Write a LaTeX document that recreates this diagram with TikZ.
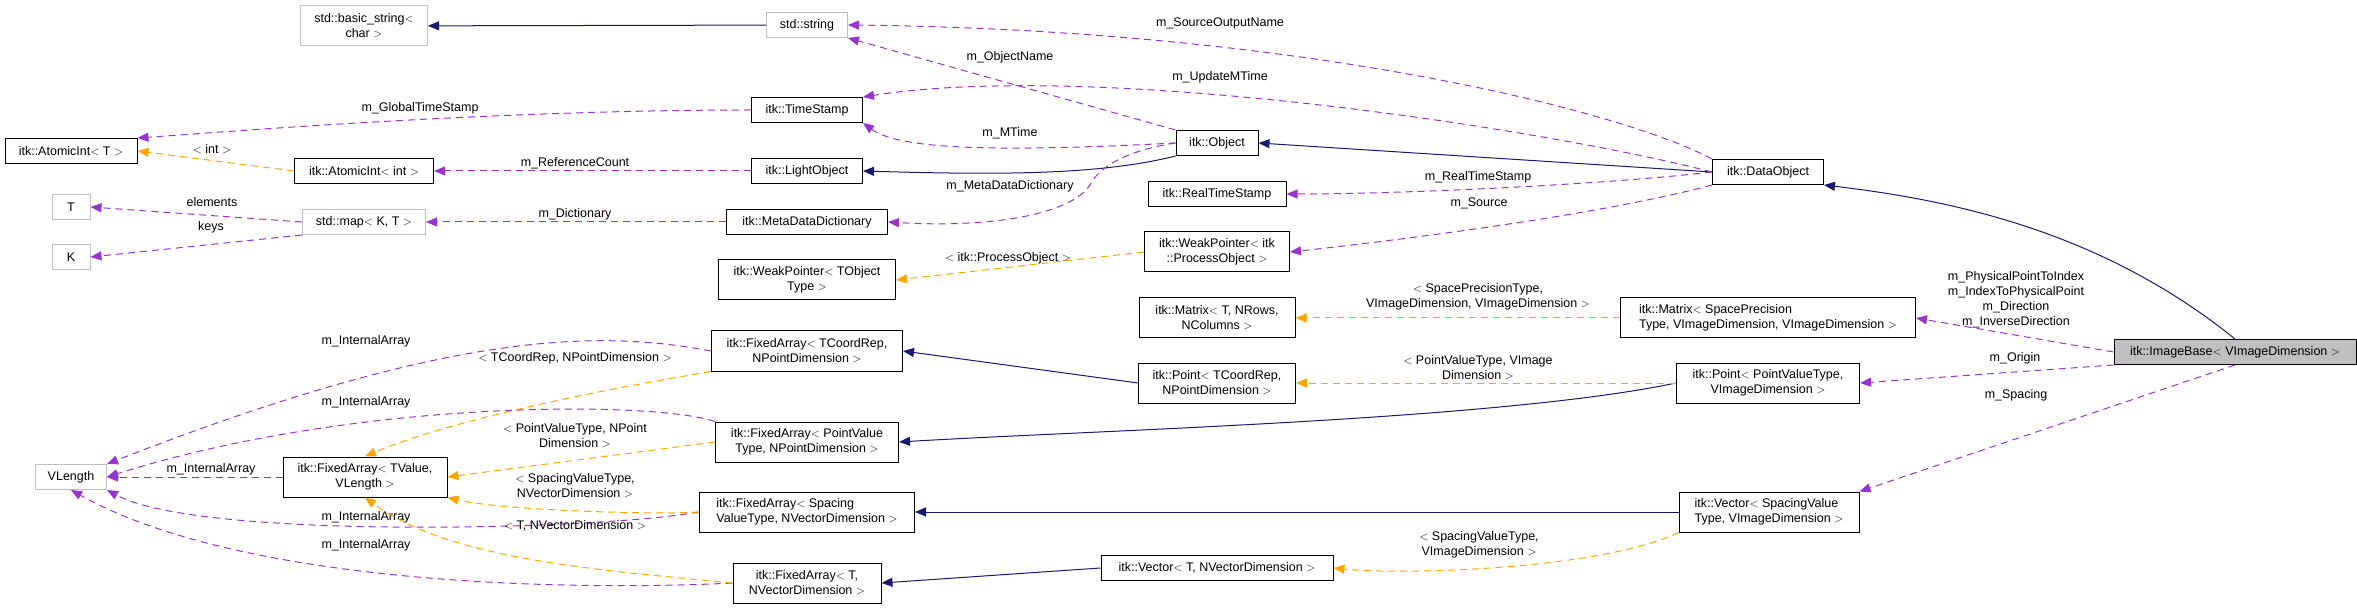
\documentclass[tikz,border=0pt]{standalone}
\usepackage{fontspec}
\setmainfont{Liberation Sans}
\usetikzlibrary{arrows.meta,positioning}
\definecolor{inheritblue}{HTML}{191970}
\definecolor{memberpurple}{HTML}{9A32CD}
\definecolor{tmplorange}{HTML}{FFA500}
\definecolor{boxgray}{HTML}{BFBFBF}

\begin{document}
\begin{tikzpicture}[x=1pt,y=-1pt,
    every node/.style={font=\fontsize{12.5}{15}\selectfont},
    cls/.style={draw=black,line width=1pt,fill=white,inner sep=4pt,minimum height=25pt,align=center},
    ext/.style={cls,draw=boxgray},
    inh/.style={draw=inheritblue,line width=1pt,-{Triangle[length=11pt,width=9pt]}},
    mem/.style={draw=memberpurple,line width=1pt,dash pattern=on 7pt off 5pt,-{Triangle[length=11pt,width=9pt]}},
    tpl/.style={draw=tmplorange,line width=1pt,dash pattern=on 7pt off 5pt,-{Triangle[length=11pt,width=9pt]}},
    lbl/.style={inner sep=0pt,align=center}]
    \useasboundingbox (0,0) rectangle (2357,609);

    % column 0
    \node[cls,minimum width=132pt] (atomicT) at (71,151) {itk::AtomicInt$<$ T $>$};
    \node[ext,minimum width=38pt] (tT) at (71,207) {T};
    \node[ext,minimum width=38pt] (tK) at (71,257) {K};
    \node[ext,minimum width=71pt] (vlength) at (71,477) {VLength};

    % column 1
    \node[ext,minimum width=127pt,minimum height=40pt] (basicstr) at (364,26) {std::basic\_string$<$\\char $>$};
    \node[cls,minimum width=139pt] (atomicint) at (364,171) {itk::AtomicInt$<$ int $>$};
    \node[ext,minimum width=123pt] (stdmap) at (364,222) {std::map$<$ K, T $>$};
    \node[cls,minimum width=164pt,minimum height=40pt] (fatvalue) at (365,477) {itk::FixedArray$<$ TValue,\\VLength $>$};

    % column 2
    \node[ext,minimum width=81pt] (stdstring) at (807,25) {std::string};
    \node[cls,minimum width=111pt] (timestamp) at (807,110) {itk::TimeStamp};
    \node[cls,minimum width=111pt] (lightobj) at (807,171) {itk::LightObject};
    \node[cls,minimum width=161pt] (metadict) at (807,222) {itk::MetaDataDictionary};
    \node[cls,minimum width=177pt,minimum height=40pt] (weakT) at (807,280) {itk::WeakPointer$<$ TObject\\Type $>$};
    \node[cls,minimum width=191pt,minimum height=40pt] (fatcoord) at (807,351) {itk::FixedArray$<$ TCoordRep,\\NPointDimension $>$};
    \node[cls,minimum width=183pt,minimum height=40pt] (fapoint) at (807,442) {itk::FixedArray$<$ PointValue\\Type, NPointDimension $>$};
    \node[cls,minimum width=215pt,minimum height=40pt,align=left] (faspacing) at (807,512) {itk::FixedArray$<$ Spacing\\ValueType, NVectorDimension $>$};
    \node[cls,minimum width=148pt,minimum height=40pt] (fatvec) at (807,583) {itk::FixedArray$<$ T,\\NVectorDimension $>$};

    % column 3
    \node[cls,minimum width=82pt] (object) at (1217,143) {itk::Object};
    \node[cls,minimum width=138pt] (realts) at (1217,194) {itk::RealTimeStamp};
    \node[cls,minimum width=145pt,minimum height=40pt] (weakproc) at (1217,252) {itk::WeakPointer$<$ itk\\::ProcessObject $>$};
    \node[cls,minimum width=156pt,minimum height=40pt] (matrixT) at (1217,318) {itk::Matrix$<$ T, NRows,\\NColumns $>$};
    \node[cls,minimum width=157pt,minimum height=40pt] (pointcoord) at (1217,383) {itk::Point$<$ TCoordRep,\\NPointDimension $>$};
    \node[cls,minimum width=232pt] (vectorT) at (1217,568) {itk::Vector$<$ T, NVectorDimension $>$};

    % column 4
    \node[cls,minimum width=111pt] (dataobj) at (1768,172) {itk::DataObject};
    \node[cls,minimum width=295pt,minimum height=40pt,align=left] (matrixsp) at (1768,318) {itk::Matrix$<$ SpacePrecision\\Type, VImageDimension, VImageDimension $>$};
    \node[cls,minimum width=183pt,minimum height=40pt] (pointval) at (1768,383) {itk::Point$<$ PointValueType,\\VImageDimension $>$};
    \node[cls,minimum width=180pt,minimum height=40pt,align=left] (vectorsp) at (1769,512) {itk::Vector$<$ SpacingValue\\Type, VImageDimension $>$};

    % column 5
    \node[cls,fill=boxgray,minimum width=242pt] (imagebase) at (2235,352) {itk::ImageBase$<$ VImageDimension $>$};

    % inheritance
    \draw[inh] (stdstring) -- (basicstr);
    \draw[inh] (object.south west) .. controls (1100,175) and (1000,175) .. (lightobj.east);
    \draw[inh] (dataobj.west) -- (object.east);
    \draw[inh] (imagebase.north) .. controls (2100,230) and (1950,200) .. (dataobj.south east);
    \draw[inh] (pointcoord.west) -- (fatcoord.east);
    \draw[inh] (pointval.west) .. controls (1500,420) and (1100,430) .. (fapoint.east);
    \draw[inh] (vectorsp.west) -- (faspacing.east);
    \draw[inh] (vectorT.west) -- (fatvec.east);

    % members
    \draw[mem] (timestamp.west) .. controls (500,110) and (250,130) .. (atomicT.north east);
    \node[lbl] (lglobal) at (420,108) {m\_GlobalTimeStamp};
    \draw[mem] (lightobj.west) -- (atomicint.east);
    \node[lbl] (lrefcount) at (575,163) {m\_ReferenceCount};
    \draw[mem] (stdmap.west) -- (tT.east);
    \node[lbl] (lelements) at (212,202) {elements};
    \draw[mem] (stdmap.south west) -- (tK.east);
    \node[lbl] (lkeys) at (211,227) {keys};
    \draw[mem] (metadict.west) -- (stdmap.east);
    \node[lbl] (ldict) at (575,214) {m\_Dictionary};
    \draw[mem] (object.north west) -- (stdstring.south east);
    \node[lbl] (lobjname) at (1010,57) {m\_ObjectName};
    \draw[mem] (object.west) .. controls (1000,152) and (900,150) .. (timestamp.south east);
    \node[lbl] (lmtime) at (1010,133) {m\_MTime};
    \draw[mem] (object.west) .. controls (1130,150) and (1100,165) .. (1090,185) .. controls (1070,215) and (990,228) .. (metadict.east);
    \node[lbl] (lmetadict) at (1010,186) {m\_MetaDataDictionary};
    \draw[mem] (dataobj.north west) .. controls (1620,110) and (1300,30) .. (stdstring.east);
    \node[lbl] (lsrcname) at (1220,23) {m\_SourceOutputName};
    \draw[mem] (dataobj.west) .. controls (1550,130) and (1100,60) .. (timestamp.north east);
    \node[lbl] (lupdate) at (1220,77) {m\_UpdateMTime};
    \draw[mem] (dataobj.west) .. controls (1600,185) and (1400,194) .. (realts.east);
    \node[lbl] (lrealts) at (1478,177) {m\_RealTimeStamp};
    \draw[mem] (dataobj.south west) .. controls (1600,215) and (1400,240) .. (weakproc.east);
    \node[lbl] (lsource) at (1479,203) {m\_Source};
    \draw[mem] (imagebase.west) -- (matrixsp.east);
    \node[lbl] (lmatrix) at (2016,300) {m\_PhysicalPointToIndex\\m\_IndexToPhysicalPoint\\m\_Direction\\m\_InverseDirection};
    \draw[mem] (imagebase.south west) -- (pointval.east);
    \node[lbl] (lorigin) at (2015,358) {m\_Origin};
    \draw[mem] (imagebase.south) -- (vectorsp.north east);
    \node[lbl] (lspacing) at (2016,395) {m\_Spacing};

    \draw[mem] (fatcoord.west) .. controls (600,330) and (450,330) .. (vlength.north east);
    \node[lbl] (lint1) at (366,341) {m\_InternalArray};
    \draw[mem] (fapoint.north west) .. controls (650,400) and (350,400) .. (vlength.east);
    \node[lbl] (lint2) at (366,402) {m\_InternalArray};
    \draw[mem] (fatvalue.west) -- (vlength.east);
    \node[lbl] (lint3) at (211,469) {m\_InternalArray};
    \draw[mem] (faspacing.west) .. controls (600,530) and (200,540) .. (vlength.south east);
    \node[lbl] (lint4) at (366,517) {m\_InternalArray};
    \draw[mem] (fatvec.west) .. controls (600,590) and (250,590) .. (vlength.south);
    \node[lbl] (lint5) at (366,545) {m\_InternalArray};

    % template instances
    \draw[tpl] (atomicint.west) -- (atomicT.east);
    \node[lbl] (lint) at (212,149) {$<$ int $>$};
    \draw[tpl] (weakproc.west) -- (weakT.east);
    \node[lbl] (lproc) at (1008,258) {$<$ itk::ProcessObject $>$};
    \draw[tpl] (matrixsp.west) -- (matrixT.east);
    \node[lbl] (lspace) at (1478,297) {$<$ SpacePrecisionType,\\VImageDimension, VImageDimension $>$};
    \draw[tpl] (pointval.west) -- (pointcoord.east);
    \node[lbl] (lpointval) at (1478,368) {$<$ PointValueType, VImage\\Dimension $>$};
    \draw[tpl] (vectorsp.south west) .. controls (1600,570) and (1400,575) .. (vectorT.east);
    \node[lbl] (lspacingval) at (1479,545) {$<$ SpacingValueType,\\VImageDimension $>$};
    \draw[tpl] (fatcoord.south west) .. controls (600,390) and (450,420) .. (fatvalue.north);
    \node[lbl] (lcoord) at (575,358) {$<$ TCoordRep, NPointDimension $>$};
    \draw[tpl] (fapoint.west) -- (fatvalue.east);
    \node[lbl] (lpointdim) at (575,436) {$<$ PointValueType, NPoint\\Dimension $>$};
    \draw[tpl] (faspacing.west) .. controls (650,515) and (500,510) .. (fatvalue.south east);
    \node[lbl] (lspacingdim) at (575,486) {$<$ SpacingValueType,\\NVectorDimension $>$};
    \draw[tpl] (fatvec.west) .. controls (600,570) and (450,560) .. (fatvalue.south);
    \node[lbl] (lvecdim) at (575,526) {$<$ T, NVectorDimension $>$};
\end{tikzpicture}
\end{document}
